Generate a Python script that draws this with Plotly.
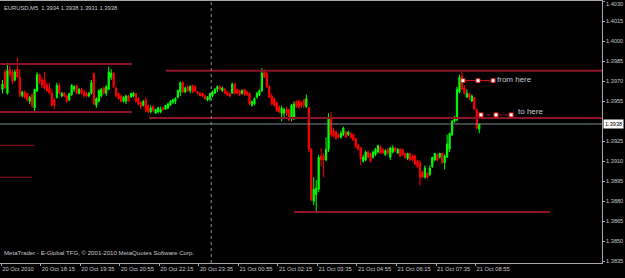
import plotly.graph_objects as go

# ---------------- data (EURUSD M5, 20 Oct 2010 16:55 -> 21 Oct 09:00) ----------------
open_ = [
    1.3964, 1.3977, 1.3961, 1.3979, 1.3977, 1.3971, 1.3979, 1.3973, 1.3959, 1.3962,
    1.3961, 1.3955, 1.3960, 1.3950, 1.3963, 1.3975, 1.3971, 1.3971, 1.3967, 1.3965,
    1.3961, 1.3956, 1.3958, 1.3967, 1.3959, 1.3961, 1.3959, 1.3956, 1.3960, 1.3964,
    1.3967, 1.3961, 1.3964, 1.3962, 1.3961, 1.3959, 1.3961, 1.3976, 1.3952, 1.3955,
    1.3959, 1.3965, 1.3961, 1.3964, 1.3973, 1.3976, 1.3965, 1.3961, 1.3959, 1.3955,
    1.3955, 1.3959, 1.3958, 1.3959, 1.3961, 1.3957, 1.3954, 1.3952, 1.3956, 1.3952,
    1.3947, 1.3951, 1.3946, 1.3947, 1.3947, 1.3950, 1.3949, 1.3950, 1.3952, 1.3954,
    1.3955, 1.3958, 1.3962, 1.3969, 1.3962, 1.3966, 1.3963, 1.3967, 1.3966, 1.3962,
    1.3961, 1.3961, 1.3959, 1.3956, 1.3957, 1.3959, 1.3961, 1.3964, 1.3966, 1.3963,
    1.3964, 1.3962, 1.3961, 1.3961, 1.3968, 1.3964, 1.3963, 1.3961, 1.3964, 1.3962,
    1.3961, 1.3952, 1.3953, 1.3958, 1.3960, 1.3963, 1.3977, 1.3976, 1.3966, 1.3959,
    1.3957, 1.3954, 1.3951, 1.3946, 1.3946, 1.3949, 1.3949, 1.3942, 1.3943, 1.3955,
    1.3955, 1.3954, 1.3956, 1.3951, 1.3950, 1.3919, 1.3880, 1.3885, 1.3889, 1.3914,
    1.3914, 1.3911, 1.3919, 1.3943, 1.3933, 1.3932, 1.3930, 1.3928, 1.3930, 1.3932,
    1.3930, 1.3931, 1.3930, 1.3927, 1.3922, 1.3920, 1.3910, 1.3911, 1.3917, 1.3916,
    1.3913, 1.3915, 1.3917, 1.3921, 1.3919, 1.3915, 1.3919, 1.3913, 1.3917, 1.3920,
    1.3916, 1.3919, 1.3919, 1.3916, 1.3912, 1.3916, 1.3914, 1.3914, 1.3910, 1.3909,
    1.3902, 1.3898, 1.3901, 1.3900, 1.3906, 1.3911, 1.3915, 1.3913, 1.3916, 1.3909,
    1.3913, 1.3919, 1.3930, 1.3940, 1.3941, 1.3962, 1.3974, 1.3965, 1.3958, 1.3961,
    1.3955, 1.3958, 1.3949, 1.3934]

high = [
    1.3971, 1.3979, 1.3984, 1.3984, 1.3979, 1.3979, 1.3988, 1.3979, 1.3963, 1.3963,
    1.3961, 1.3959, 1.3961, 1.3964, 1.3977, 1.3976, 1.3973, 1.3977, 1.3969, 1.3969,
    1.3964, 1.3958, 1.3969, 1.3969, 1.3962, 1.3962, 1.3960, 1.3961, 1.3968, 1.3967,
    1.3967, 1.3965, 1.3965, 1.3964, 1.3962, 1.3962, 1.3971, 1.3976, 1.3958, 1.3964,
    1.3965, 1.3966, 1.3967, 1.3981, 1.3979, 1.3977, 1.3966, 1.3961, 1.3960, 1.3959,
    1.3960, 1.3960, 1.3961, 1.3962, 1.3961, 1.3958, 1.3955, 1.3956, 1.3958, 1.3952,
    1.3952, 1.3952, 1.3949, 1.3951, 1.3951, 1.3951, 1.3952, 1.3954, 1.3956, 1.3957,
    1.3958, 1.3964, 1.3970, 1.3970, 1.3966, 1.3967, 1.3967, 1.3967, 1.3967, 1.3963,
    1.3962, 1.3961, 1.3960, 1.3959, 1.3961, 1.3963, 1.3965, 1.3967, 1.3967, 1.3966,
    1.3965, 1.3963, 1.3961, 1.3969, 1.3969, 1.3964, 1.3964, 1.3964, 1.3964, 1.3963,
    1.3962, 1.3955, 1.3958, 1.3962, 1.3964, 1.3980, 1.3979, 1.3977, 1.3967, 1.3961,
    1.3958, 1.3955, 1.3952, 1.3952, 1.3950, 1.3951, 1.3949, 1.3953, 1.3955, 1.3956,
    1.3956, 1.3955, 1.3957, 1.3960, 1.3951, 1.3920, 1.3898, 1.3896, 1.3915, 1.3920,
    1.3916, 1.3928, 1.3946, 1.3947, 1.3935, 1.3933, 1.3931, 1.3933, 1.3936, 1.3933,
    1.3933, 1.3932, 1.3931, 1.3928, 1.3923, 1.3921, 1.3915, 1.3918, 1.3918, 1.3916,
    1.3918, 1.3920, 1.3922, 1.3922, 1.3920, 1.3919, 1.3920, 1.3921, 1.3922, 1.3921,
    1.3920, 1.3920, 1.3919, 1.3916, 1.3916, 1.3916, 1.3915, 1.3915, 1.3911, 1.3911,
    1.3903, 1.3907, 1.3902, 1.3907, 1.3913, 1.3916, 1.3916, 1.3916, 1.3916, 1.3915,
    1.3930, 1.3931, 1.3941, 1.3944, 1.3966, 1.3975, 1.3977, 1.3967, 1.3964, 1.3961,
    1.3960, 1.3958, 1.3949, 1.3938]

low = [
    1.3961, 1.3964, 1.3960, 1.3973, 1.3968, 1.3970, 1.3973, 1.3958, 1.3958, 1.3957,
    1.3955, 1.3953, 1.3950, 1.3947, 1.3962, 1.3968, 1.3965, 1.3964, 1.3962, 1.3960,
    1.3951, 1.3949, 1.3957, 1.3960, 1.3958, 1.3958, 1.3954, 1.3955, 1.3959, 1.3962,
    1.3960, 1.3960, 1.3960, 1.3958, 1.3958, 1.3958, 1.3960, 1.3952, 1.3950, 1.3954,
    1.3958, 1.3960, 1.3959, 1.3964, 1.3971, 1.3965, 1.3958, 1.3956, 1.3954, 1.3954,
    1.3953, 1.3955, 1.3958, 1.3958, 1.3954, 1.3952, 1.3949, 1.3951, 1.3947, 1.3946,
    1.3946, 1.3947, 1.3946, 1.3946, 1.3946, 1.3948, 1.3949, 1.3949, 1.3952, 1.3953,
    1.3953, 1.3957, 1.3959, 1.3961, 1.3961, 1.3962, 1.3961, 1.3961, 1.3962, 1.3960,
    1.3959, 1.3958, 1.3956, 1.3955, 1.3955, 1.3958, 1.3961, 1.3962, 1.3963, 1.3962,
    1.3961, 1.3959, 1.3958, 1.3961, 1.3960, 1.3961, 1.3959, 1.3960, 1.3959, 1.3959,
    1.3952, 1.3951, 1.3952, 1.3957, 1.3959, 1.3962, 1.3973, 1.3965, 1.3958, 1.3952,
    1.3951, 1.3947, 1.3946, 1.3940, 1.3943, 1.3944, 1.3940, 1.3940, 1.3941, 1.3950,
    1.3949, 1.3950, 1.3950, 1.3950, 1.3917, 1.3880, 1.3877, 1.3871, 1.3887, 1.3906,
    1.3898, 1.3910, 1.3917, 1.3928, 1.3928, 1.3926, 1.3927, 1.3927, 1.3929, 1.3928,
    1.3929, 1.3927, 1.3925, 1.3920, 1.3918, 1.3907, 1.3909, 1.3910, 1.3913, 1.3909,
    1.3912, 1.3914, 1.3916, 1.3916, 1.3916, 1.3914, 1.3915, 1.3911, 1.3916, 1.3917,
    1.3916, 1.3913, 1.3914, 1.3912, 1.3911, 1.3910, 1.3910, 1.3907, 1.3905, 1.3892,
    1.3898, 1.3897, 1.3897, 1.3899, 1.3905, 1.3910, 1.3910, 1.3912, 1.3908, 1.3904,
    1.3913, 1.3917, 1.3929, 1.3939, 1.3940, 1.3961, 1.3964, 1.3960, 1.3958, 1.3956,
    1.3955, 1.3949, 1.3934, 1.3931]

close = [
    1.3968, 1.3965, 1.3978, 1.3975, 1.3970, 1.3977, 1.3973, 1.3960, 1.3962, 1.3958,
    1.3956, 1.3958, 1.3952, 1.3964, 1.3975, 1.3970, 1.3967, 1.3965, 1.3963, 1.3961,
    1.3952, 1.3952, 1.3967, 1.3961, 1.3961, 1.3959, 1.3955, 1.3961, 1.3967, 1.3966,
    1.3961, 1.3964, 1.3961, 1.3959, 1.3959, 1.3961, 1.3969, 1.3953, 1.3957, 1.3963,
    1.3964, 1.3961, 1.3966, 1.3977, 1.3976, 1.3966, 1.3959, 1.3957, 1.3955, 1.3958,
    1.3959, 1.3955, 1.3961, 1.3961, 1.3955, 1.3953, 1.3951, 1.3955, 1.3948, 1.3947,
    1.3950, 1.3948, 1.3949, 1.3950, 1.3949, 1.3949, 1.3952, 1.3953, 1.3955, 1.3956,
    1.3957, 1.3963, 1.3969, 1.3962, 1.3965, 1.3963, 1.3966, 1.3962, 1.3963, 1.3961,
    1.3959, 1.3959, 1.3957, 1.3958, 1.3961, 1.3962, 1.3964, 1.3966, 1.3964, 1.3965,
    1.3961, 1.3960, 1.3959, 1.3968, 1.3961, 1.3961, 1.3960, 1.3963, 1.3960, 1.3960,
    1.3953, 1.3955, 1.3957, 1.3961, 1.3963, 1.3976, 1.3973, 1.3966, 1.3958, 1.3953,
    1.3952, 1.3948, 1.3947, 1.3950, 1.3949, 1.3946, 1.3941, 1.3952, 1.3953, 1.3951,
    1.3951, 1.3952, 1.3952, 1.3957, 1.3919, 1.3881, 1.3889, 1.3890, 1.3913, 1.3911,
    1.3911, 1.3919, 1.3943, 1.3930, 1.3929, 1.3927, 1.3928, 1.3931, 1.3935, 1.3928,
    1.3932, 1.3928, 1.3926, 1.3921, 1.3919, 1.3912, 1.3913, 1.3917, 1.3913, 1.3910,
    1.3917, 1.3919, 1.3922, 1.3916, 1.3916, 1.3918, 1.3916, 1.3920, 1.3920, 1.3918,
    1.3919, 1.3914, 1.3915, 1.3913, 1.3916, 1.3911, 1.3911, 1.3908, 1.3906, 1.3898,
    1.3898, 1.3905, 1.3898, 1.3905, 1.3913, 1.3916, 1.3911, 1.3916, 1.3909, 1.3914,
    1.3923, 1.3931, 1.3940, 1.3943, 1.3964, 1.3973, 1.3964, 1.3961, 1.3961, 1.3958,
    1.3959, 1.3949, 1.3935, 1.3938]

bars = list(range(len(close)))

# time axis labels (bar index of each label)
label_bars = [0, 16, 32, 48, 64, 80, 96, 112, 128, 144, 160, 176, 192]
label_text = ["20 Oct 2010", "20 Oct 18:15", "20 Oct 19:35", "20 Oct 20:55",
              "20 Oct 22:15", "20 Oct 23:35", "21 Oct 00:55", "21 Oct 02:15",
              "21 Oct 03:35", "21 Oct 04:55", "21 Oct 06:15", "21 Oct 07:35",
              "21 Oct 08:55"]
day_separator_bar = 84.5

# price axis labels
price_ticks = [1.4030, 1.4015, 1.4000, 1.3985, 1.3970, 1.3955, 1.3925,
               1.3910, 1.3895, 1.3880, 1.3865, 1.3850, 1.3835]
top_tick_label = "1.4030"
current_price = 1.3938

# drawn horizontal levels (price, start bar, end bar)
level_price = [1.3983, 1.3947, 1.3978, 1.39425, 1.3872]
level_start = [-1.0, -1.0, 66.2, 59.3, 118.0]
level_end = [52.4, 52.4, 243.0, 243.0, 221.7]

# short marks at the left edge
mark_price = [1.3922, 1.3898]
mark_start = [-1.0, -1.0]
mark_end = [12.7, 12.0]

# annotated trend lines
from_price = 1.39705
from_bars = [186.4, 192.5, 198.6]
to_price = 1.39448
to_bars = [193.7, 199.8, 205.9]

# ---------------- figure ----------------
X_RANGE = [-1.012, 242.7]
Y_RANGE = [1.38337, 1.403025]
FG = "#C8C8CC"
AXFONT = 5.6

fig = go.Figure()

# level lines
for p, s, e in zip(level_price, level_start, level_end):
    fig.add_trace(go.Scatter(x=[s, e], y=[p, p], mode="lines",
                             line=dict(color="#8E1428", width=2),
                             hoverinfo="skip"))
for p, s, e in zip(mark_price, mark_start, mark_end):
    fig.add_trace(go.Scatter(x=[s, e], y=[p, p], mode="lines",
                             line=dict(color="#9A1020", width=1),
                             hoverinfo="skip"))

# current price line
fig.add_trace(go.Scatter(x=[X_RANGE[0], X_RANGE[1]], y=[current_price, current_price],
                         mode="lines", line=dict(color="#7A8888", width=1),
                         hoverinfo="skip"))

# candles
fig.add_trace(go.Candlestick(
    x=bars, open=open_, high=high, low=low, close=close,
    increasing=dict(line=dict(color="#00FF00", width=1), fillcolor="#00FF00"),
    decreasing=dict(line=dict(color="#FF0000", width=1), fillcolor="#FF0000"),
    whiskerwidth=0, hoverinfo="skip"))

# trend lines "from here" / "to here"
fig.add_trace(go.Scatter(x=from_bars, y=[from_price] * 3, mode="lines+markers",
                         line=dict(color="#E01818", width=1),
                         marker=dict(symbol="square", size=4, color="white",
                                     line=dict(color="#E01818", width=1)),
                         hoverinfo="skip"))
fig.add_trace(go.Scatter(x=to_bars, y=[to_price] * 3, mode="lines+markers",
                         line=dict(color="#A01020", width=1, dash="dot"),
                         marker=dict(symbol="square", size=4, color="white",
                                     line=dict(color="#E01818", width=1)),
                         hoverinfo="skip"))

# day separator
fig.add_shape(type="line", xref="x", yref="paper", x0=day_separator_bar,
              x1=day_separator_bar, y0=0, y1=1,
              line=dict(color="#8A8A8A", width=1, dash="dot"))

annotations = [
    dict(x=from_bars[-1], y=from_price, xref="x", yref="y", text="from here",
         showarrow=False, xanchor="left", yanchor="middle", xshift=2, yshift=1,
         font=dict(size=8, color=FG)),
    dict(x=to_bars[-1], y=to_price, xref="x", yref="y", text="to here",
         showarrow=False, xanchor="left", yanchor="middle", xshift=5, yshift=3,
         font=dict(size=8, color=FG)),
    dict(x=0, y=1, xref="paper", yref="paper",
         text="EURUSD,M5&nbsp; 1.3934 1.3938 1.3931 1.3938",
         showarrow=False, xanchor="left", yanchor="top", xshift=2, yshift=-2,
         font=dict(size=5.8, color=FG)),
    dict(x=0, y=0, xref="paper", yref="paper",
         text="MetaTrader - E-Global TFG, © 2001-2010 MetaQuotes Software Corp.",
         showarrow=False, xanchor="left", yanchor="bottom", xshift=2, yshift=5,
         font=dict(size=6.1, color=FG)),
    dict(x=1, y=1, xref="paper", yref="paper", text=top_tick_label,
         showarrow=False, xanchor="left", yanchor="top", xshift=3, yshift=1,
         borderpad=0, font=dict(size=AXFONT, color=FG)),
    dict(x=1, y=current_price, xref="paper", yref="y", text="1.3938",
         showarrow=False, xanchor="left", yanchor="middle", xshift=1,
         bgcolor="#FFFFFF", borderpad=1, font=dict(size=AXFONT, color="#000000")),
]

fig.update_layout(
    width=625, height=278,
    margin=dict(l=0, r=23, t=1, b=15, autoexpand=False),
    paper_bgcolor="#000000", plot_bgcolor="#000000",
    showlegend=False,
    font=dict(family="Liberation Sans", size=6.3, color=FG),
    annotations=annotations,
    xaxis=dict(range=X_RANGE, tickvals=[b - 0.5 for b in label_bars],
               ticktext=label_text, ticklabelposition="outside right",
               tickangle=0, automargin=False, tickfont=dict(size=5.8),
               showgrid=False, zeroline=False, showline=True, mirror=True,
               linecolor="#A8A8A8", linewidth=1, ticks="outside", ticklen=2,
               tickcolor="#A8A8A8", rangeslider=dict(visible=False),
               fixedrange=True),
    yaxis=dict(range=Y_RANGE, side="right", tickvals=price_ticks,
               ticktext=["" if f"{v:.4f}" == top_tick_label else f"{v:.4f}"
                         for v in price_ticks],
               automargin=False,
               tickfont=dict(size=AXFONT),
               showgrid=False, zeroline=False, showline=True, mirror=True,
               linecolor="#A8A8A8", linewidth=1, ticks="outside", ticklen=2,
               tickcolor="#A8A8A8", fixedrange=True),
)

fig.write_html("out.html")
